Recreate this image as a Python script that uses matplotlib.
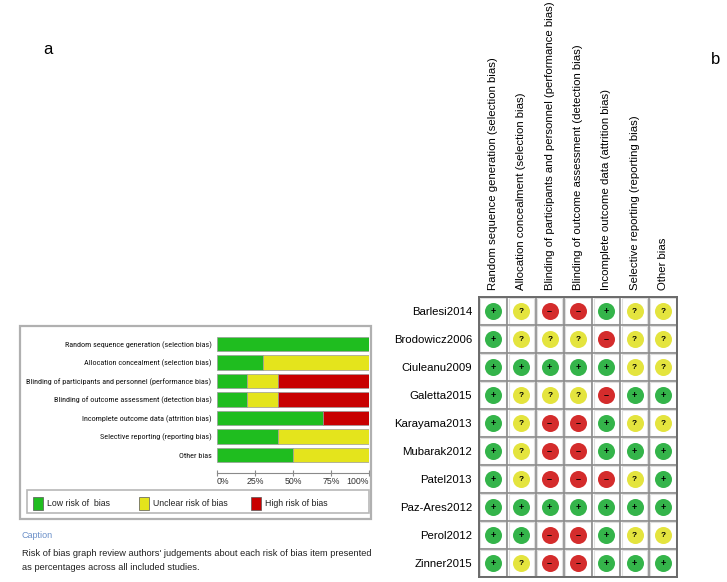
import matplotlib
matplotlib.use("Agg")
import matplotlib.pyplot as plt
from matplotlib import font_manager
from matplotlib.patches import Rectangle

W, H = 727, 582

# risk of bias domains
domains = [
    "Random sequence generation (selection bias)",
    "Allocation concealment (selection bias)",
    "Blinding of participants and personnel (performance bias)",
    "Blinding of outcome assessment (detection bias)",
    "Incomplete outcome data (attrition bias)",
    "Selective reporting (reporting bias)",
    "Other bias",
]

studies = [
    "Barlesi2014", "Brodowicz2006", "Ciuleanu2009", "Galetta2015",
    "Karayama2013", "Mubarak2012", "Patel2013", "Paz-Ares2012",
    "Perol2012", "Zinner2015",
]

# judgements per study, one per domain: + low, ? unclear, - high
judgements = [
    ["+", "?", "-", "-", "+", "?", "?"],  # Barlesi2014
    ["+", "?", "?", "?", "-", "?", "?"],  # Brodowicz2006
    ["+", "+", "+", "+", "+", "?", "?"],  # Ciuleanu2009
    ["+", "?", "?", "?", "-", "+", "+"],  # Galetta2015
    ["+", "?", "-", "-", "+", "?", "?"],  # Karayama2013
    ["+", "?", "-", "-", "+", "+", "+"],  # Mubarak2012
    ["+", "?", "-", "-", "-", "?", "+"],  # Patel2013
    ["+", "+", "+", "+", "+", "+", "+"],  # Paz-Ares2012
    ["+", "+", "-", "-", "+", "?", "?"],  # Perol2012
    ["+", "?", "-", "-", "+", "+", "+"],  # Zinner2015
]

# percentages shown in the summary graph (panel a)
low_pct = [100, 30, 20, 20, 70, 40, 50]
unclear_pct = [0, 70, 20, 20, 0, 60, 50]
high_pct = [0, 0, 60, 60, 30, 0, 0]

ticks = [0, 25, 50, 75, 100]
tick_labels = ["0%", "25%", "50%", "75%", "100%"]

bar_colors = {"low": "#1fbd1f", "unclear": "#e4e41c", "high": "#c80000"}
dot_colors = {"+": "#34b44a", "?": "#e4e43e", "-": "#d42c2c"}
dot_symbols = {"+": "+", "?": "?", "-": "\u2013"}

plt.rcParams["font.family"] = ["Liberation Sans", "DejaVu Sans"]

# narrow face for the bar labels (like Arial Narrow in the original)
installed = {f.name for f in font_manager.fontManager.ttflist}
narrow = None
for cand in ["Arial Narrow", "Liberation Sans Narrow", "Roboto Condensed",
             "PT Sans Narrow", "Archivo Narrow", "Asap Condensed"]:
    if cand in installed:
        narrow = cand
        break
label_font = [narrow, "Liberation Sans"] if narrow else ["Liberation Sans"]
label_size = 5.9 if narrow else 5.25


def fig_rect(x0, y0, x1, y1):
    # pixel box (top-left origin) -> figure fraction rect
    return [x0 / W, 1 - y1 / H, (x1 - x0) / W, (y1 - y0) / H]


fig = plt.figure(figsize=(W / 100, H / 100), dpi=100)

# ---- panel a: summary bar graph ----
fig.patches.append(Rectangle((20 / W, 1 - 519 / H), 351 / W, 193 / H,
                             transform=fig.transFigure, fill=False,
                             edgecolor="#b0b0b0", lw=1.6))
fig.patches.append(Rectangle((27 / W, 1 - 513 / H), 342 / W, 23 / H,
                             transform=fig.transFigure, fill=False,
                             edgecolor="#b8b8b8", lw=1.2))

ax = fig.add_axes(fig_rect(217, 334.75, 369, 464.25))
ypos = list(range(len(domains)))
left_u = low_pct
left_h = [a + b for a, b in zip(low_pct, unclear_pct)]
ax.barh(ypos, low_pct, height=0.76, color=bar_colors["low"],
        edgecolor="#9a9a9a", lw=0.5)
ax.barh(ypos, unclear_pct, left=left_u, height=0.76, color=bar_colors["unclear"],
        edgecolor="#9a9a9a", lw=0.5)
ax.barh(ypos, high_pct, left=left_h, height=0.76, color=bar_colors["high"],
        edgecolor="#9a9a9a", lw=0.5)
ax.set_xlim(0, 100)
ax.set_ylim(len(domains) - 0.5, -0.5)
ax.set_yticks(ypos)
ax.set_yticklabels(domains, family=label_font, fontsize=label_size, color="#111111")
ax.tick_params(axis="y", length=0, pad=4)
for s in ["top", "right", "left"]:
    ax.spines[s].set_visible(False)
ax.spines["bottom"].set_position(("outward", 6))
ax.spines["bottom"].set_color("#8a8a8a")
ax.set_xticks(ticks)
ax.set_xticklabels(tick_labels, fontsize=6.3, color="#333333")
ax.tick_params(axis="x", direction="inout", length=5, color="#8a8a8a", pad=1)
xt = ax.get_xticklabels()
xt[0].set_ha("left")
xt[-1].set_ha("right")

legend_items = [("Low risk of  bias", "low", 33), ("Unclear risk of bias", "unclear", 139),
                ("High risk of bias", "high", 251)]
for label, key, x0 in legend_items:
    fig.patches.append(Rectangle((x0 / W, 1 - 510 / H), 10 / W, 13 / H,
                                 transform=fig.transFigure, facecolor=bar_colors[key],
                                 edgecolor="#555555", lw=0.5))
    fig.text((x0 + 14) / W, 1 - 503 / H, label, fontsize=6.3, va="center", color="#222222")

fig.text(22 / W, 1 - 536 / H, "Caption", fontsize=6.5, color="#6a8fc8", va="center")
fig.text(22 / W, 1 - 553 / H,
         "Risk of bias graph review authors' judgements about each risk of bias item presented",
         fontsize=6.7, color="#222222", va="center")
fig.text(22 / W, 1 - 567 / H, "as percentages across all included studies.",
         fontsize=6.7, color="#222222", va="center")

fig.text(48 / W, 1 - 50 / H, "a", fontsize=12, va="center", ha="center")
fig.text(716 / W, 1 - 60 / H, "b", fontsize=12, va="center", ha="center")

# ---- panel b: risk of bias summary grid ----
gx = fig.add_axes(fig_rect(479, 297, 677, 577))
nrow, ncol = len(studies), len(domains)
gx.set_xlim(0, ncol)
gx.set_ylim(nrow, 0)
for r, row in enumerate(judgements):
    for c, j in enumerate(row):
        gx.add_patch(Rectangle((c + 0.05, r + 0.05), 0.9, 0.9, fill=False,
                               edgecolor="#dedede", lw=0.8))
        gx.scatter(c + 0.5, r + 0.5, s=150, color=dot_colors[j], zorder=3, lw=0)
        gx.text(c + 0.5, r + 0.52, dot_symbols[j], ha="center", va="center",
                fontsize=6.5 if j != "?" else 6, fontweight="bold", zorder=4)
for k in range(ncol + 1):
    gx.axvline(k, color="#8c8c8c", lw=1.2)
for k in range(nrow + 1):
    gx.axhline(k, color="#8c8c8c", lw=1.2)
for s in gx.spines.values():
    s.set_color("#6a6a6a")
    s.set_linewidth(1.4)
gx.set_yticks([r + 0.5 for r in range(nrow)])
gx.set_yticklabels(studies, fontsize=8.2)
gx.tick_params(axis="y", length=0, pad=5)
gx.xaxis.tick_top()
gx.set_xticks([c + 0.5 for c in range(ncol)])
gx.set_xticklabels(domains, rotation=90, fontsize=8.2, va="bottom")
gx.tick_params(axis="x", length=0, pad=5)

fig.savefig("out.png", dpi=100)
